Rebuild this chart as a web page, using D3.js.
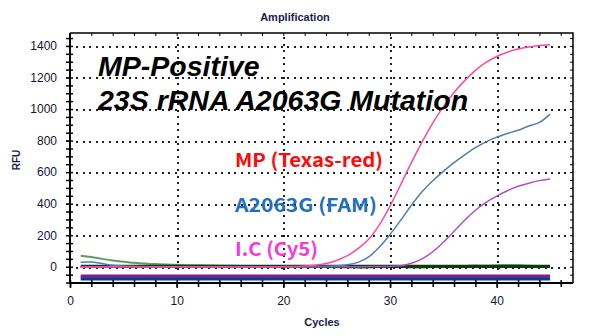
<!DOCTYPE html>
<html>
<head>
<meta charset="utf-8">
<script src="https://cdn.jsdelivr.net/npm/d3@7"></script>
<style>
  body { margin: 0; background: #fff; }
  svg { display: block; }
</style>
</head>
<body>
<div id="chart"></div>
<script>
// Read data
var cycles = [1,2,3,4,5,6,7,8,9,10,11,12,13,14,15,16,17,18,19,20,21,22,23,24,25,26,27,28,29,30,31,32,33,34,35,36,37,38,39,40,41,42,43,44,45];

var texasRed = [-5,-3,-2,-1,0,0,0,0,0,0,0,0,0,0,0,0,0,0,0,1,2,4,10,20,40,70,115,175,265,385,520,660,790,910,1015,1105,1180,1245,1295,1333,1360,1380,1393,1402,1408];
var fam = [28,30,20,10,4,2,0,-2,-2,0,0,0,0,0,0,0,0,0,0,0,0,0,1,3,6,12,28,62,125,205,295,390,475,545,605,660,710,755,792,822,845,865,892,915,968];
var cy5 = [0,0,0,0,0,0,0,0,0,0,0,0,0,0,0,0,0,0,0,0,0,0,0,0,0,0,0,1,1,2,6,22,50,95,155,225,295,358,408,448,482,510,530,546,557];
var icGreen = [70,62,50,40,32,25,20,17,14,12,10,9,8,7,6,5,5,4,3,3,2,2,0,-2,-3,-4,-6,-5,-2,0,0,-5,-5,-2,0,3,5,8,6,8,10,9,6,4,3];
var darkGreen = [2,2,2,2,2,2,2,2,2,2,2,2,2,2,2,2,2,2,2,2,2,2,2,2,2,2,2,2,2,2,2,2,2,2,2,2,2,2,2,2,2,2,2,2,2];
var flatPurple = -59;
var flatNavy = -77;

var yTicks = [0,200,400,600,800,1000,1200,1400];
var xTicks = [0,10,20,30,40];

// set dimensions
var width = 591, height = 336;
var plot = {left: 70, right: 573, top: 33, bottom: 283};

var svg = d3.select("#chart")
  .append("svg")
    .attr("width", width)
    .attr("height", height);

var x = d3.scaleLinear()
  .domain([0, 47.15])
  .range([plot.left, plot.right]);

var y = d3.scaleLinear()
  .domain([-103, 1482])
  .range([plot.bottom, plot.top]);

// Dotted grid, drawn as small squares
var grid = svg.append("g").attr("shape-rendering", "crispEdges");
yTicks.forEach(function(t) {
  var gy = Math.round(y(t));
  grid.selectAll(null)
    .data(d3.range(plot.left + 6, plot.right - 2, 6.6))
    .enter().append("rect")
      .attr("x", function(d) { return Math.round(d); })
      .attr("y", gy)
      .attr("width", 2).attr("height", 2)
      .attr("fill", "#222");
});
xTicks.slice(1).forEach(function(t) {
  var gx = Math.round(x(t));
  grid.selectAll(null)
    .data(d3.range(plot.top + 4, plot.bottom - 2, 6.6))
    .enter().append("rect")
      .attr("x", gx)
      .attr("y", function(d) { return Math.round(d); })
      .attr("width", 2).attr("height", 2)
      .attr("fill", "#222");
});

// Curves
var line = function(values) {
  return d3.line()
    .curve(d3.curveCatmullRom)
    .x(function(d, i) { return x(cycles[i]); })
    .y(function(d) { return y(d); })(values);
};

function flatLine(v, color) {
  svg.append("line")
    .attr("x1", x(cycles[0])).attr("x2", x(cycles[cycles.length - 1]))
    .attr("y1", y(v)).attr("y2", y(v))
    .attr("stroke", color)
    .attr("stroke-width", 3.2);
}
flatLine(flatPurple, "#8a1a8c");
flatLine(flatNavy, "#0b3d8c");

svg.append("path")
  .attr("d", line(icGreen))
  .attr("fill", "none")
  .attr("stroke", "#5f9a62")
  .attr("stroke-width", 2);
svg.append("path")
  .attr("d", line(darkGreen))
  .attr("fill", "none")
  .attr("stroke", "#0d3a10")
  .attr("stroke-width", 3.2);
svg.append("path")
  .attr("d", line(cy5))
  .attr("fill", "none")
  .attr("stroke", "#b04fc0")
  .attr("stroke-width", 1.5);
svg.append("path")
  .attr("d", line(fam))
  .attr("fill", "none")
  .attr("stroke", "#4f7db2")
  .attr("stroke-width", 1.5);
svg.append("path")
  .attr("d", line(texasRed))
  .attr("fill", "none")
  .attr("stroke", "#ff4aa2")
  .attr("stroke-width", 1.5);

// Frame (top and right)
svg.append("path")
  .attr("d", "M" + plot.left + "," + plot.top + "H" + plot.right + "V" + plot.bottom)
  .attr("fill", "none")
  .attr("stroke", "#000")
  .attr("stroke-width", 1.5);

var minorY = d3.range(-100, 1481, 50);
var minorX = d3.range(0, 47, 2);

// Y axis
svg.append("g")
  .attr("transform", "translate(" + plot.left + ",0)")
  .call(d3.axisLeft(y).tickValues(yTicks).tickSize(4).tickPadding(9).tickFormat(d3.format("d")))
  .call(function(g) {
    g.select(".domain").attr("stroke-width", 2).attr("d", "M0," + plot.top + "V" + plot.bottom);
    g.selectAll("text").style("font-family", "Liberation Sans, Arial, sans-serif")
      .style("font-size", "12px").attr("fill", "#151530");
  });
svg.append("g")
  .attr("transform", "translate(" + plot.left + ",0)")
  .call(d3.axisLeft(y).tickValues(minorY).tickSize(4).tickFormat(""))
  .call(function(g) { g.select(".domain").remove(); g.selectAll("line").attr("stroke-width", 1.5); });
svg.append("g")
  .attr("transform", "translate(" + plot.left + ",0)")
  .call(d3.axisRight(y).tickValues(minorY).tickSize(3).tickFormat(""))
  .call(function(g) { g.select(".domain").remove(); g.selectAll("line").attr("stroke-width", 1.5); });
// right side ticks
svg.append("g")
  .attr("transform", "translate(" + plot.right + ",0)")
  .call(d3.axisLeft(y).tickValues(minorY).tickSize(3).tickFormat(""))
  .call(function(g) { g.select(".domain").remove(); });

// X axis
svg.append("g")
  .attr("transform", "translate(0," + plot.bottom + ")")
  .call(d3.axisBottom(x).tickValues(xTicks).tickSize(5).tickPadding(8))
  .call(function(g) {
    g.select(".domain").attr("stroke-width", 2).attr("d", "M" + plot.left + ",0H" + plot.right);
    g.selectAll("line").attr("stroke-width", 1.5);
    g.selectAll("text").style("font-family", "Liberation Sans, Arial, sans-serif")
      .style("font-size", "12px").attr("fill", "#151530");
  });
svg.append("g")
  .attr("transform", "translate(0," + plot.bottom + ")")
  .call(d3.axisBottom(x).tickValues(minorX).tickSize(4).tickFormat(""))
  .call(function(g) { g.select(".domain").remove(); g.selectAll("line").attr("stroke-width", 1.5); });
svg.append("g")
  .attr("transform", "translate(0," + plot.bottom + ")")
  .call(d3.axisTop(x).tickValues(minorX).tickSize(3).tickFormat(""))
  .call(function(g) { g.select(".domain").remove(); g.selectAll("line").attr("stroke-width", 1.5); });
// top side ticks
svg.append("g")
  .attr("transform", "translate(0," + plot.top + ")")
  .call(d3.axisBottom(x).tickValues(minorX).tickSize(3).tickFormat(""))
  .call(function(g) { g.select(".domain").remove(); });

// Titles
svg.append("text")
  .attr("x", 295).attr("y", 21)
  .attr("text-anchor", "middle")
  .style("font-family", "Liberation Sans, Arial, sans-serif")
  .style("font-size", "11px").style("font-weight", "bold")
  .attr("fill", "#1a1a50")
  .text("Amplification");

svg.append("text")
  .attr("x", 322).attr("y", 326)
  .attr("text-anchor", "middle")
  .style("font-family", "Liberation Sans, Arial, sans-serif")
  .style("font-size", "11px").style("font-weight", "bold")
  .attr("fill", "#1a1a50")
  .text("Cycles");

svg.append("text")
  .attr("transform", "translate(20,160) rotate(-90)")
  .attr("text-anchor", "middle")
  .style("font-family", "Liberation Sans, Arial, sans-serif")
  .style("font-size", "10px").style("font-weight", "bold")
  .attr("fill", "#1a1a50")
  .text("RFU");

// Annotations
svg.append("text")
  .attr("x", 98).attr("y", 76)
  .style("font-family", "Liberation Sans, Arial, sans-serif")
  .style("font-size", "28.5px").style("font-weight", "bold").style("font-style", "italic")
  .attr("fill", "#000")
  .text("MP-Positive");
svg.append("text")
  .attr("x", 98).attr("y", 110)
  .style("font-family", "Liberation Sans, Arial, sans-serif")
  .style("font-size", "28.5px").style("font-weight", "bold").style("font-style", "italic")
  .attr("fill", "#000")
  .text("23S rRNA A2063G Mutation");

var labels = [
  {text: "MP (Texas-red)", y: 167, color: "#ff0a0a", w: 148},
  {text: "A2063G (FAM)", y: 212, color: "#1e6fbe", w: 142},
  {text: "I.C (Cy5)", y: 256, color: "#f43ad8", w: 83}
];
svg.selectAll(".lab")
  .data(labels)
  .enter().append("text")
    .attr("x", 235)
    .attr("y", function(d) { return d.y; })
    .attr("textLength", function(d) { return d.w; })
    .attr("lengthAdjust", "spacingAndGlyphs")
    .style("font-family", "Noto Sans CJK KR, Noto Sans, sans-serif")
    .style("font-size", "19px").style("font-weight", "bold")
    .attr("fill", function(d) { return d.color; })
    .text(function(d) { return d.text; });
</script>
</body>
</html>
